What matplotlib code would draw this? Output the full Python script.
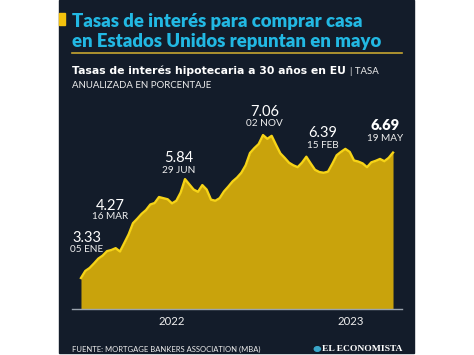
import numpy as np
import pandas as pd
import matplotlib
matplotlib.use("Agg")
import matplotlib.pyplot as plt
import matplotlib.dates as mdates
from matplotlib.patches import Rectangle, Circle

# weekly MBA 30-year fixed rate, Jan 2022 - May 2023
dates = pd.date_range("2022-01-05", periods=73, freq="7D")
rates = [3.33, 3.52, 3.60, 3.72, 3.85, 3.93, 4.05, 4.08, 4.13, 4.04,
         4.27, 4.50, 4.80, 4.92, 5.05, 5.15, 5.30, 5.34, 5.50, 5.47,
         5.44, 5.33, 5.40, 5.62, 5.98, 5.84, 5.70, 5.64, 5.82, 5.70,
         5.43, 5.40, 5.47, 5.65, 5.78, 5.92, 6.02, 6.15, 6.35, 6.68,
         6.81, 6.92, 7.16, 7.06, 7.14, 6.90, 6.67, 6.55, 6.42, 6.35,
         6.30, 6.42, 6.58, 6.40, 6.23, 6.17, 6.15, 6.18, 6.39, 6.62,
         6.71, 6.79, 6.71, 6.48, 6.45, 6.40, 6.30, 6.43, 6.47, 6.52,
         6.46, 6.55, 6.69]

# highlighted points: (index, value text, date text, offset px)
callouts = [(0, "3.33", "05 ENE", 6),
            (10, "4.27", "16 MAR", -14),
            (25, "5.84", "29 JUN", -11),
            (43, "7.06", "02 NOV", -3),
            (58, "6.39", "15 FEB", -10),
            (72, "6.69", "19 MAY", -8)]
callout_up = [(40, 29), (37, 26), (26, 14), (27, 15), (31, 18), (27, 14)]

year_ticks = [pd.Timestamp("2022-06-01"), pd.Timestamp("2023-03-17")]
year_labels = ["2022", "2023"]

navy = "#131c2a"
gold_fill = "#c9a30c"
gold_line = "#f7d417"
cyan = "#22b8e3"
white = "#eeeeee"
FONT = ["Lato", "DejaVu Sans"]

W, H = 474, 355
fig = plt.figure(figsize=(W / 100, H / 100), dpi=100)
fig.patch.set_facecolor("white")

def fx(px):
    return px / W

def fy(py):
    return 1 - py / H

# dark panel
fig.add_artist(Rectangle((fx(59), fy(353)), fx(414) - fx(59), fy(0) - fy(353),
                         transform=fig.transFigure, color=navy, zorder=0))
fig.add_artist(Rectangle((fx(59), fy(25)), fx(65) - fx(59), fy(13) - fy(25),
                         transform=fig.transFigure, color="#f4c20d", zorder=1))

fig.text(fx(72), fy(21), "Tasas de interés para comprar casa", color=cyan,
         fontsize=13.3, fontweight="heavy", family=FONT, va="center", ha="left")
fig.text(fx(72), fy(42), "en Estados Unidos repuntan en mayo", color=cyan,
         fontsize=13.3, fontweight="heavy", family=FONT, va="center", ha="left")
fig.add_artist(plt.Line2D([fx(72), fx(402)], [fy(53), fy(53)], transform=fig.transFigure,
                          color="#c6a531", lw=1.2))

t = fig.text(fx(72), fy(71), "Tasas de interés hipotecaria a 30 años en EU", color="white",
             fontsize=7.8, fontweight="bold", family="DejaVu Sans", va="center", ha="left")
fig.canvas.draw()
bb = t.get_window_extent()
fig.text(bb.x1 / W + 0.008, fy(71), "| TASA", color=white, fontsize=6.9,
         family=FONT, va="center", ha="left")
fig.text(fx(72), fy(85), "ANUALIZADA EN PORCENTAJE", color=white, fontsize=6.9,
         family=FONT, va="center", ha="left")

fig.text(fx(72), fy(349), "FUENTE: MORTGAGE BANKERS ASSOCIATION (MBA)", color=white,
         fontsize=5.5, family=FONT, va="center", ha="left")
logo = fig.text(fx(402), fy(349), "EL ECONOMISTA", color="white", fontsize=6.8,
                fontweight="bold", family="Liberation Serif", va="center", ha="right")
fig.canvas.draw()
lb = logo.get_window_extent()
fig.add_artist(Circle((lb.x0 / W - 0.009, fy(349)), 0.0065, transform=fig.transFigure,
                      color="#3aa6c9"))

# chart
ax = fig.add_axes([fx(72), fy(309), fx(402) - fx(72), fy(100) - fy(309)])
ax.set_facecolor("none")
ymin = 2.5
ax.fill_between(dates, ymin, rates, color=gold_fill, lw=0, zorder=2)
ax.plot(dates, rates, color=gold_line, lw=1.7, zorder=3, solid_joinstyle="round")
pad = pd.Timedelta(days=14.5)
ax.set_xlim(dates[0] - pad, dates[-1] + pad)
ax.set_ylim(ymin, 8.1)

for (i, val, lab, dx), (up1, up2) in zip(callouts, callout_up):
    bold = i == len(rates) - 1
    ax.annotate(val, (dates[i], rates[i]), xytext=(dx * 0.72, up1 * 0.72),
                textcoords="offset points", ha="center", va="center",
                color="white", fontsize=10.5,
                fontweight="heavy" if bold else "normal", family=FONT)
    ax.annotate(lab, (dates[i], rates[i]), xytext=(dx * 0.72, up2 * 0.72),
                textcoords="offset points", ha="center", va="center",
                color=white, fontsize=7.2, family=FONT)

for s in ["top", "right", "left"]:
    ax.spines[s].set_visible(False)
ax.spines["bottom"].set_color("#9aa3ad")
ax.spines["bottom"].set_linewidth(1)
ax.set_yticks([])
ax.set_xticks(year_ticks)
ax.set_xticklabels(year_labels, color=white, fontsize=8.2, family=FONT)
ax.tick_params(axis="x", length=0, pad=5)

fig.savefig("out.png", dpi=100, facecolor="white")
